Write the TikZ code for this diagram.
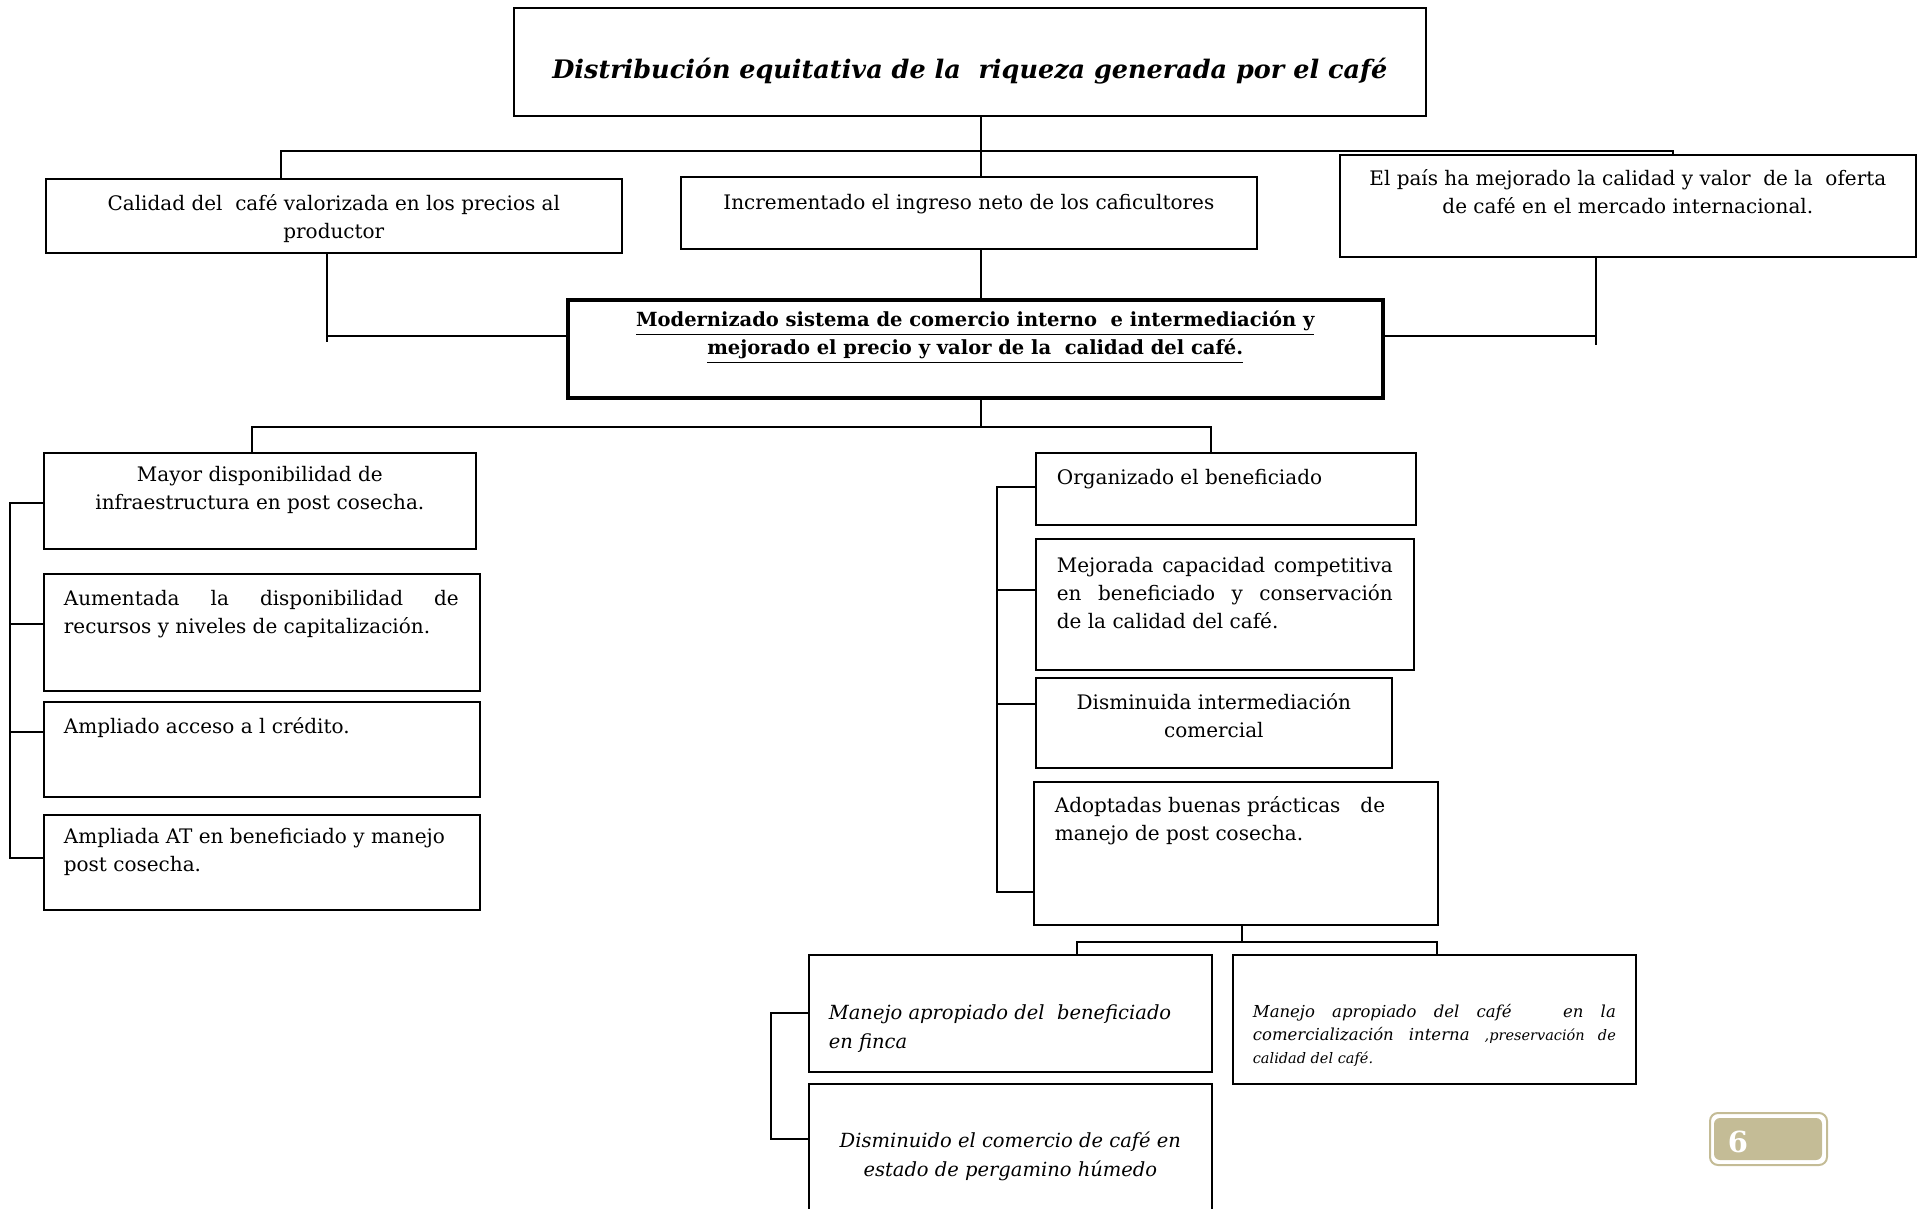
\documentclass[tikz,border=0pt]{standalone}
\usepackage{fontspec}
\setmainfont{DejaVu Serif}
\usepackage{amsmath}
\usetikzlibrary{calc}
\definecolor{badgetan}{RGB}{196,188,150}

\begin{document}
\begin{tikzpicture}[x=1pt, y=-1pt, line width=1.7pt,
  box/.style={draw, rectangle, inner sep=0, anchor=north west},
  txt/.style={inner sep=0, font=\fontsize{20}{28}\selectfont, execute at begin node=\strut},
  itxt/.style={txt, font=\fontsize{19.5}{29}\selectfont\itshape},
  ttl/.style={inner sep=0, font=\fontsize{25.5}{30}\selectfont\bfseries\itshape}]
\useasboundingbox (0,0) rectangle (1923,1209);
\clip (0,0) rectangle (1923,1209);
\node[box, minimum width=912, minimum height=108] (T) at (513,7) {};
\node[ttl, anchor=base] (Ttxt) at ($(T.north)+(0,72)$) {Distribución equitativa de la\ \ riqueza generada por el café};
\node[box, minimum width=576, minimum height=74] (A) at (45,178) {};
\node[txt, align=center, anchor=north] (Atxt) at ($(A.north)+(0,15.4)$) {Calidad del\ \ café valorizada en los precios al\\productor};
\node[box, minimum width=576, minimum height=72] (B) at (680,176) {};
\node[txt, anchor=base] (Btxt) at ($(B.north)+(0,34)$) {Incrementado el ingreso neto de los caficultores};
\node[box, minimum width=576, minimum height=102] (C) at (1339,154) {};
\node[txt, align=center, anchor=north] (Ctxt) at ($(C.north)+(0,14.4)$) {El país ha mejorado la calidad y valor\ \ de la\ \ oferta\\de café en el mercado internacional.};
\node[box, line width=3.5pt, minimum width=815, minimum height=98] (M) at (566,298) {};
\node[txt, font=\fontsize{19.5}{28}\selectfont\bfseries, align=center, anchor=north] (Mtxt) at ($(M.north)+(0,12.4)$) {\underline{Modernizado sistema de comercio interno\ \ e intermediación y}\\\underline{mejorado el precio y valor de la\ \ calidad del café.}};
% left column
\node[box, minimum width=432, minimum height=96] (L1) at (43,452) {};
\node[txt, align=center, anchor=north] (L1txt) at ($(L1.north)+(0,13.4)$) {Mayor disponibilidad de\\infraestructura en post cosecha.};
\node[box, minimum width=436, minimum height=117] (L2) at (43,573) {};
\node[txt, text width=395, align=justify, anchor=north west] (L2txt) at ($(L2.north west)+(20,12.4)$) {Aumentada la disponibilidad de\linebreak recursos y niveles de capitalización.};
\node[box, minimum width=436, minimum height=95] (L3) at (43,701) {};
\node[txt, anchor=base west] (L3txt) at ($(L3.north west)+(20,32)$) {Ampliado acceso a l crédito.};
\node[box, minimum width=436, minimum height=95] (L4) at (43,814) {};
\node[txt, align=left, anchor=north west] (L4txt) at ($(L4.north west)+(20,13.4)$) {Ampliada AT en beneficiado y manejo\\post cosecha.};
% right column
\node[box, minimum width=380, minimum height=72] (R1) at (1035,452) {};
\node[txt, anchor=base west] (R1txt) at ($(R1.north west)+(21,32)$) {Organizado el beneficiado};
\node[box, minimum width=378, minimum height=131] (R2) at (1035,538) {};
\node[txt, text width=336, align=justify, anchor=north west] (R2txt) at ($(R2.north west)+(21,14.4)$) {Mejorada capacidad competitiva\linebreak en beneficiado y conservación\linebreak de la calidad del café.};
\node[box, minimum width=356, minimum height=90] (R3) at (1035,677) {};
\node[txt, align=center, anchor=north] (R3txt) at ($(R3.north)+(0,15.4)$) {Disminuida intermediación\\comercial};
\node[box, minimum width=404, minimum height=143] (R4) at (1033,781) {};
\node[txt, align=left, anchor=north west] (R4txt) at ($(R4.north west)+(21,14.4)$) {Adoptadas buenas prácticas\quad de\\manejo de post cosecha.};
% bottom
\node[box, minimum width=403, minimum height=117] (B1) at (808,954) {};
\node[itxt, align=left, anchor=north west] (B1txt) at ($(B1.north west)+(20,49.5)$) {Manejo apropiado del\ \ beneficiado\\en finca};
\node[box, minimum width=403, minimum height=129] (B2) at (1232,954) {};
\node[itxt, font=\fontsize{16.5}{23}\selectfont\itshape, text width=363, align=justify, anchor=north west] (B2txt) at ($(B2.north west)+(20,46.9)$) {Manejo apropiado del café\ \ \ en la\linebreak comercialización interna {\fontsize{14.5}{23}\selectfont ,preservación de}\linebreak {\fontsize{14.5}{23}\selectfont calidad del café.}};
\node[box, minimum width=403, minimum height=150] (B3) at (808,1083) {};
\node[itxt, align=center, anchor=north] (B3txt) at ($(B3.north)+(0,48.5)$) {Disminuido el comercio de café en\\estado de pergamino húmedo};
% connectors
\coordinate (tr) at (981,151);
\coordinate (aL) at (281,151);
\coordinate (cR) at (1673,151);
\draw (T.south -| tr) -- (B.north -| tr);
\draw (A.north -| aL) -- (aL) -- (cR) -- (C.north -| cR);
\draw (B.south -| tr) -- (M.north -| tr);
\coordinate (aM) at (327,336);
\coordinate (cM) at (1596,336);
\draw (A.south -| aM) -- ++(0,88);
\draw (aM) -- (aM -| M.west);
\draw (C.south -| cM) -- ++(0,87);
\draw (cM) -- (cM -| M.east);
\coordinate (mb) at (981,427);
\coordinate (lt) at (252,427);
\coordinate (rt) at (1211,427);
\draw (M.south -| mb) -- (mb);
\draw (L1.north -| lt) -- (lt) -- (rt) -- (R1.north -| rt);
\draw (L1.west |- 0,503) -| (10,858) -- (L4.west |- 0,858);
\foreach \b/\yy in {L2/624, L3/732}
  \draw (\b.west |- 0,\yy) -- (10,\yy);
\draw (R1.west |- 0,487) -| (997,892) -- (R4.west |- 0,892);
\foreach \b/\yy in {R2/590, R3/704}
  \draw (\b.west |- 0,\yy) -- (997,\yy);
\coordinate (rb) at (1242,942);
\draw (R4.south -| rb) -- (rb);
\draw (B1.north -| 1077,0) -- (1077,942) -- (1437,942) -- (B2.north -| 1437,0);
\draw (B1.west |- 0,1013) -| (771,1139) -- (B3.west |- 0,1139);
% page badge
\draw[badgetan, line width=2pt, rounded corners=8] (1710,1113) rectangle (1827,1165);
\fill[badgetan, rounded corners=6] (1714,1118) rectangle (1822,1160);
\node[white, inner sep=0, font=\fontsize{29}{29}\selectfont\bfseries, anchor=base west] (pg) at (1727,1152) {6};
\end{tikzpicture}
\end{document}
